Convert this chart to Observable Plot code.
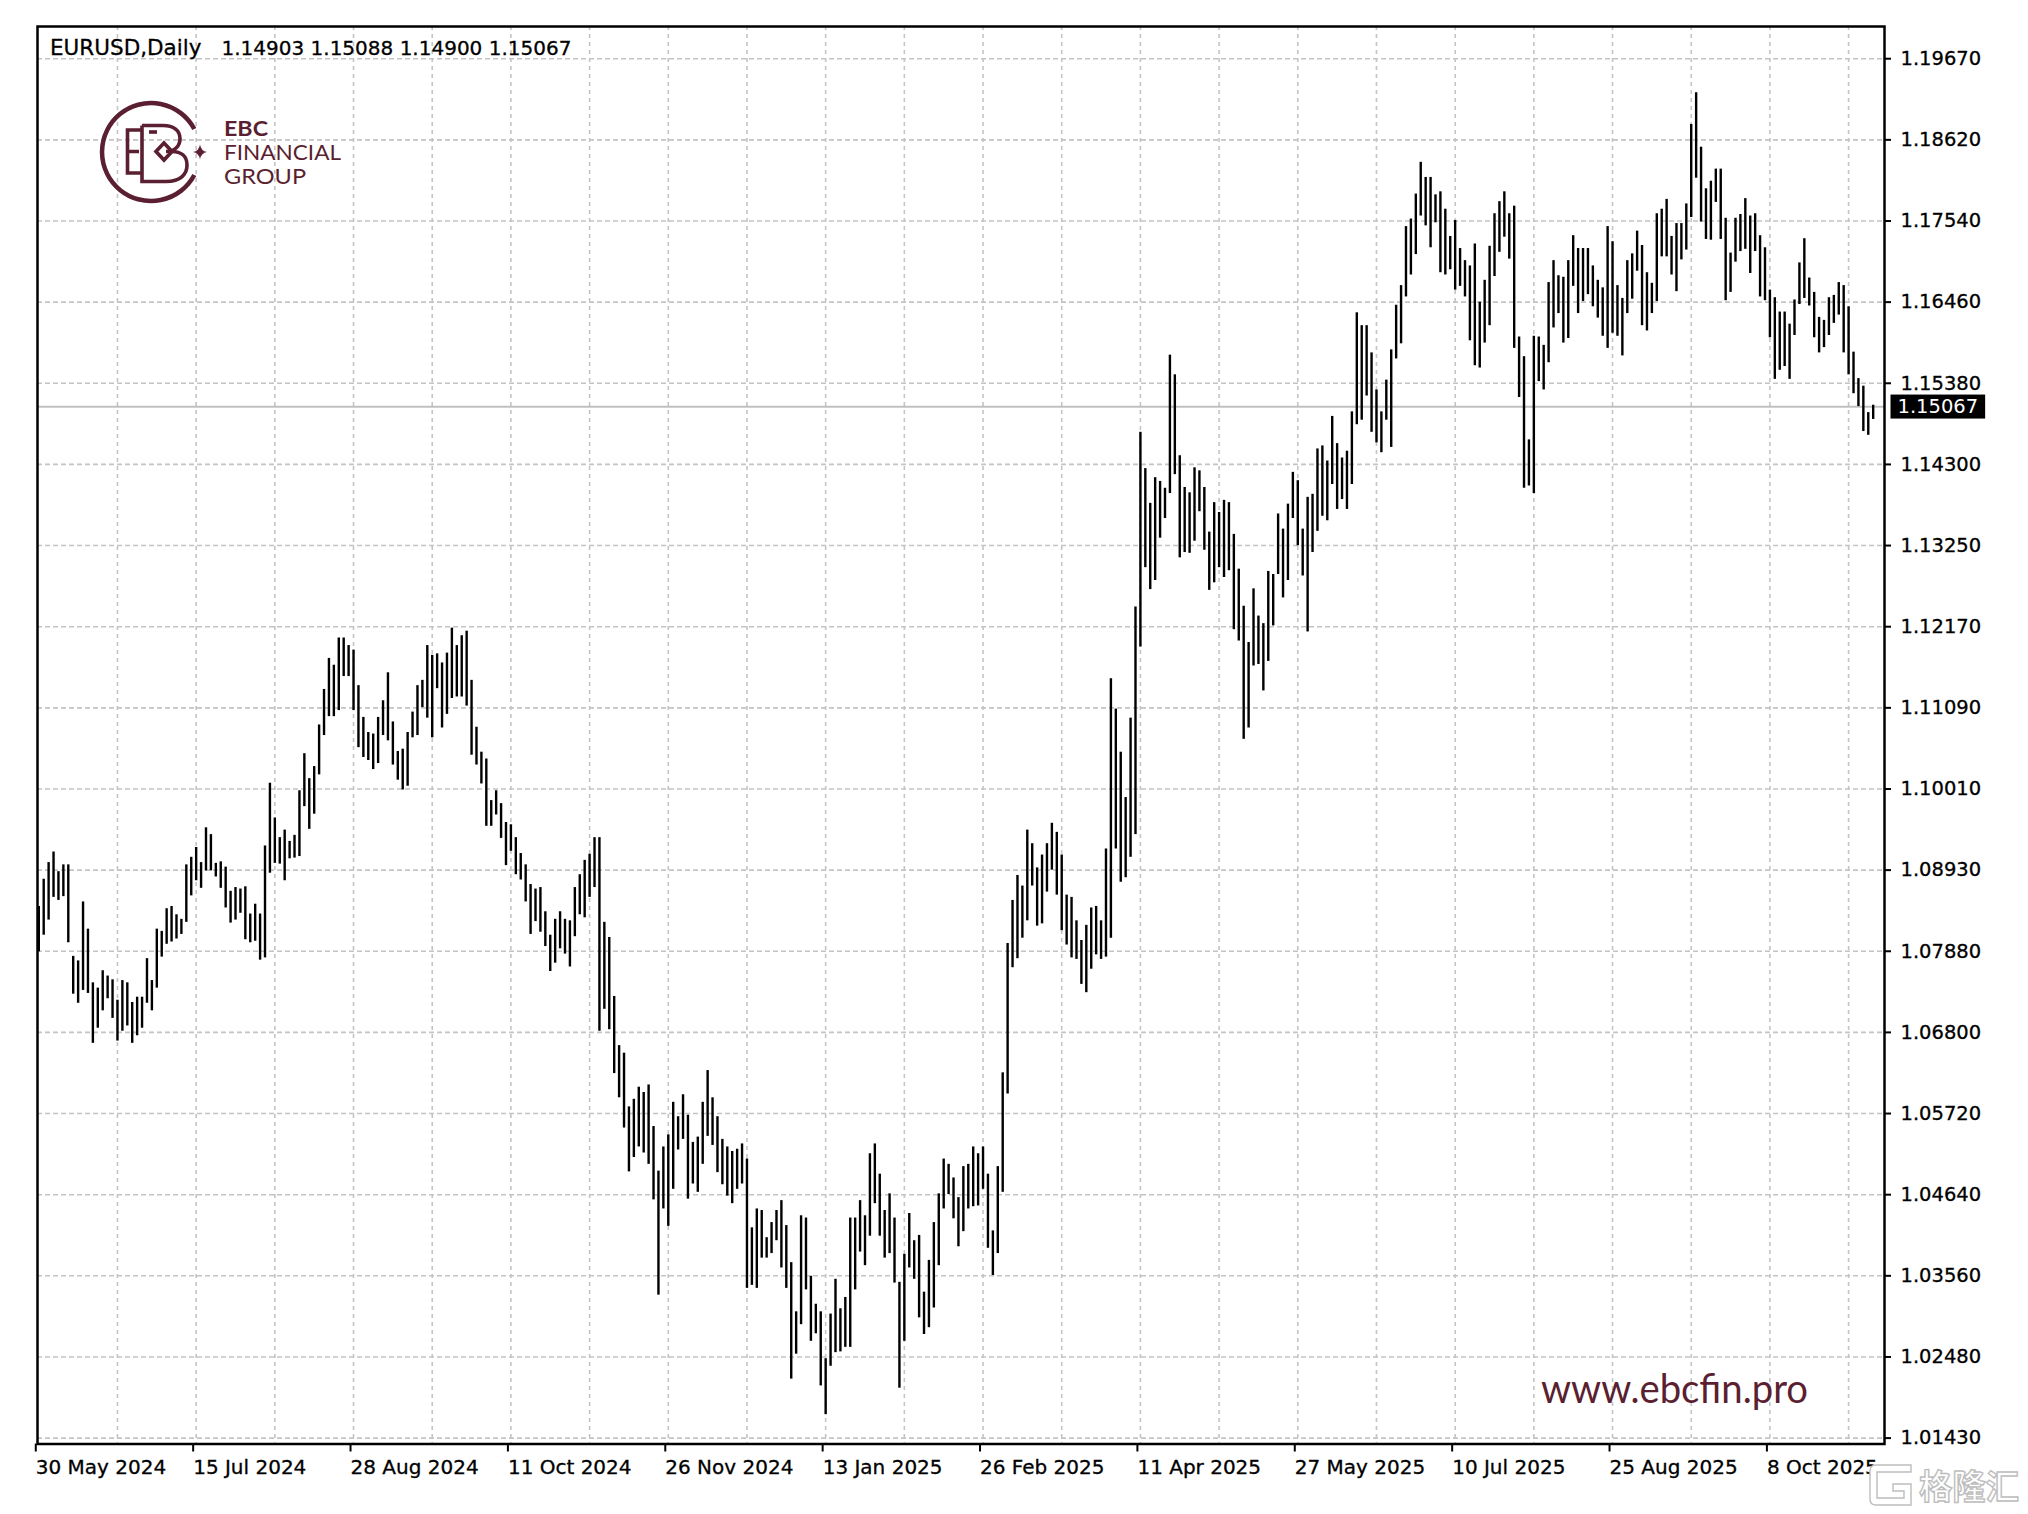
<!DOCTYPE html>
<html><head><meta charset="utf-8">
<script src="https://cdn.jsdelivr.net/npm/d3@7"></script>
<script src="https://cdn.jsdelivr.net/npm/@observablehq/plot@0.6"></script>
<style>
html,body{margin:0;padding:0;background:#fff;}
svg text{white-space:pre;}
svg g[aria-label="y-axis tick label"] text,
svg g[aria-label="x-axis tick label"] text,
svg g.hdr text{stroke:#000;stroke-width:0.3px;}
</style></head><body>
<script>
// ---------- data ----------
const symbol = "EURUSD,Daily";
const lastBar = {open: 1.14903, high: 1.15088, low: 1.14900, close: 1.15067};

const high = [
1.0846,1.0882,1.0904,1.0918,1.0892,1.0901,1.0901,1.0780,1.0774,1.0852,
1.0816,1.0745,1.0738,1.0761,1.0754,1.0749,1.0722,1.0748,1.0745,1.0719,
1.0726,1.0726,1.0777,1.0748,1.0816,1.0813,1.0843,1.0846,1.0835,1.0829,
1.0901,1.0911,1.0924,1.0904,1.0950,1.0941,1.0903,1.0905,1.0898,1.0866,
1.0871,1.0869,1.0872,1.0836,1.0849,1.0836,1.0926,1.1009,1.0963,1.0937,
1.0947,1.0932,1.0940,1.0999,1.1048,1.1015,1.1031,1.1086,1.1133,1.1174,
1.1165,1.1201,1.1201,1.1191,1.1185,1.1138,1.1096,1.1076,1.1074,1.1096,
1.1118,1.1155,1.1090,1.1051,1.1054,1.1076,1.1103,1.1138,1.1145,1.1191,
1.1178,1.1180,1.1168,1.1181,1.1214,1.1191,1.1204,1.1210,1.1145,1.1083,
1.1050,1.1041,1.0986,1.0999,1.0982,1.0957,1.0954,1.0937,1.0916,1.0901,
1.0875,1.0869,1.0871,1.0839,1.0808,1.0829,1.0839,1.0829,1.0827,1.0871,
1.0888,1.0907,1.0915,1.0937,1.0937,1.0825,1.0805,1.0727,1.0662,1.0652,
1.0581,1.0591,1.0607,1.0600,1.0610,1.0555,1.0496,1.0528,1.0544,1.0587,
1.0568,1.0597,1.0570,1.0534,1.0541,1.0587,1.0629,1.0593,1.0568,1.0538,
1.0528,1.0522,1.0525,1.0532,1.0512,1.0421,1.0446,1.0444,1.0408,1.0428,
1.0444,1.0457,1.0424,1.0375,1.0310,1.0437,1.0434,1.0357,1.0320,1.0310,
1.0248,1.0307,1.0353,1.0314,1.0329,1.0434,1.0434,1.0457,1.0437,1.0519,
1.0532,1.0492,1.0444,1.0466,1.0434,1.0349,1.0386,1.0440,1.0404,1.0411,
1.0336,1.0378,1.0428,1.0466,1.0512,1.0505,1.0487,1.0461,1.0502,1.0505,
1.0528,1.0519,1.0528,1.0492,1.0417,1.0502,1.0626,1.0797,1.0854,1.0887,
1.0873,1.0947,1.0929,1.0897,1.0914,1.0929,1.0956,1.0944,1.0914,1.0861,
1.0858,1.0827,1.0801,1.0821,1.0844,1.0846,1.0827,1.0922,1.1147,1.1107,
1.1050,1.0990,1.1095,1.1242,1.1473,1.1425,1.1379,1.1413,1.1408,1.1399,
1.1575,1.1549,1.1442,1.1400,1.1393,1.1426,1.1422,1.1400,1.1341,1.1380,
1.1367,1.1383,1.1380,1.1338,1.1292,1.1243,1.1195,1.1266,1.1230,1.1220,
1.1289,1.1285,1.1365,1.1345,1.1378,1.1420,1.1409,1.1345,1.1387,1.1391,
1.1451,1.1455,1.1435,1.1494,1.1458,1.1439,1.1448,1.1500,1.1631,1.1614,
1.1614,1.1578,1.1529,1.1500,1.1542,1.1582,1.1641,1.1667,1.1745,1.1755,
1.1788,1.1830,1.1810,1.1810,1.1787,1.1791,1.1768,1.1732,1.1753,1.1716,
1.1700,1.1693,1.1722,1.1645,1.1674,1.1719,1.1762,1.1778,1.1791,1.1762,
1.1772,1.1599,1.1573,1.1463,1.1600,1.1599,1.1588,1.1671,1.1700,1.1680,
1.1678,1.1700,1.1733,1.1716,1.1716,1.1716,1.1693,1.1674,1.1664,1.1745,
1.1725,1.1667,1.1650,1.1700,1.1709,1.1739,1.1720,1.1684,1.1670,1.1762,
1.1768,1.1781,1.1732,1.1749,1.1749,1.1775,1.1880,1.1922,1.1850,1.1795,
1.1805,1.1821,1.1821,1.1756,1.1710,1.1756,1.1761,1.1782,1.1759,1.1762,
1.1733,1.1717,1.1661,1.1651,1.1632,1.1632,1.1616,1.1648,1.1697,1.1729,
1.1677,1.1658,1.1625,1.1621,1.1651,1.1654,1.1671,1.1667,1.1639,1.1579,
1.1544,1.1534,1.1499,1.15088
];

const low = [
1.0786,1.0808,1.0828,1.0858,1.0854,1.0859,1.0798,1.0730,1.0718,1.0735,
1.0731,1.0665,1.0685,1.0708,1.0724,1.0698,1.0668,1.0681,1.0688,1.0665,
1.0675,1.0685,1.0718,1.0708,1.0738,1.0779,1.0796,1.0799,1.0803,1.0809,
1.0825,1.0860,1.0880,1.0870,1.0893,1.0893,1.0885,1.0870,1.0844,1.0824,
1.0828,1.0837,1.0802,1.0798,1.0800,1.0775,1.0778,1.0890,1.0903,1.0902,
1.0880,1.0909,1.0910,1.0912,1.0978,1.0948,1.0968,1.1020,1.1072,1.1097,
1.1097,1.1105,1.1150,1.1150,1.1105,1.1056,1.1043,1.1039,1.1027,1.1035,
1.1072,1.1065,1.1033,1.1013,1.1000,1.1005,1.1069,1.1072,1.1109,1.1095,
1.1069,1.1134,1.1082,1.1100,1.1121,1.1123,1.1123,1.1111,1.1046,1.1033,
1.1008,1.0952,1.0952,1.0967,1.0936,1.0900,1.0919,1.0888,1.0881,1.0852,
1.0809,1.0826,1.0812,1.0793,1.0760,1.0771,1.0790,1.0783,1.0766,1.0806,
1.0835,1.0831,1.0858,1.0871,1.0681,1.0710,1.0683,1.0625,1.0593,1.0553,
1.0495,1.0514,1.0528,1.0520,1.0505,1.0458,1.0332,1.0446,1.0423,1.0472,
1.0524,1.0538,1.0459,1.0479,1.0468,1.0505,1.0542,1.0530,1.0494,1.0478,
1.0463,1.0453,1.0472,1.0479,1.0341,1.0345,1.0341,1.0381,1.0381,1.0387,
1.0404,1.0368,1.0341,1.0221,1.0254,1.0293,1.0339,1.0271,1.0281,1.0212,
1.0174,1.0238,1.0256,1.0257,1.0263,1.0263,1.0339,1.0389,1.0371,1.0410,
1.0453,1.0410,1.0381,1.0387,1.0348,1.0209,1.0271,1.0368,1.0353,1.0302,
1.0280,1.0289,1.0315,1.0371,1.0446,1.0465,1.0433,1.0396,1.0416,1.0446,
1.0449,1.0450,1.0472,1.0394,1.0358,1.0387,1.0468,1.0598,1.0765,1.0777,
1.0804,1.0827,1.0873,1.0820,1.0823,1.0865,1.0894,1.0861,1.0814,1.0795,
1.0778,1.0776,1.0743,1.0732,1.0763,1.0782,1.0776,1.0779,1.0804,1.0922,
1.0878,1.0884,1.0911,1.0941,1.1189,1.1294,1.1265,1.1277,1.1333,1.1359,
1.1392,1.1417,1.1307,1.1314,1.1313,1.1329,1.1368,1.1317,1.1264,1.1274,
1.1294,1.1281,1.1290,1.1212,1.1197,1.1067,1.1082,1.1164,1.1166,1.1131,
1.1170,1.1217,1.1285,1.1254,1.1277,1.1359,1.1323,1.1283,1.1209,1.1314,
1.1342,1.1362,1.1356,1.1404,1.1371,1.1384,1.1371,1.1404,1.1483,1.1489,
1.1521,1.1473,1.1459,1.1446,1.1489,1.1453,1.1570,1.1590,1.1652,1.1681,
1.1708,1.1759,1.1746,1.1717,1.1750,1.1684,1.1681,1.1688,1.1661,1.1666,
1.1652,1.1594,1.1561,1.1558,1.1591,1.1614,1.1679,1.1711,1.1731,1.1702,
1.1584,1.1519,1.1399,1.1402,1.1392,1.1540,1.1529,1.1565,1.1611,1.1630,
1.1591,1.1597,1.1666,1.1630,1.1646,1.1655,1.1639,1.1624,1.1600,1.1584,
1.1604,1.1600,1.1574,1.1630,1.1649,1.1686,1.1614,1.1607,1.1630,1.1646,
1.1705,1.1705,1.1681,1.1659,1.1701,1.1714,1.1757,1.1809,1.1751,1.1728,
1.1727,1.1777,1.1728,1.1647,1.1658,1.1698,1.1712,1.1715,1.1683,1.1712,
1.1652,1.1647,1.1598,1.1543,1.1555,1.1560,1.1543,1.1601,1.1642,1.1650,
1.1640,1.1598,1.1578,1.1585,1.1601,1.1617,1.1628,1.1578,1.1549,1.1524,
1.1507,1.1474,1.1469,1.14900
];

const dateLabels = ["30 May 2024","15 Jul 2024","28 Aug 2024","11 Oct 2024","26 Nov 2024",
  "13 Jan 2025","26 Feb 2025","11 Apr 2025","27 May 2025","10 Jul 2025","25 Aug 2025","8 Oct 2025"];
const barsPerLabel = 32;
const barsPerGrid = 16;

const yTickLabels = ["1.19670","1.18620","1.17540","1.16460","1.15380","1.14300","1.13250",
  "1.12170","1.11090","1.10010","1.08930","1.07880","1.06800","1.05720","1.04640","1.03560",
  "1.02480","1.01430"];

// ---------- derived tables ----------
const bars = high.map((h, i) => ({i, high: h, low: low[i]}));
const yTop = +yTickLabels[0], yBot = +yTickLabels[yTickLabels.length - 1];
const yTicks = yTickLabels.map((t, k) => yTop - k * (yTop - yBot) / (yTickLabels.length - 1));
const dateTicks = dateLabels.map((_, k) => k * barsPerLabel);
const gridX = d3.range(barsPerGrid, bars.length, barsPerGrid);
const ohlcText = [lastBar.open, lastBar.high, lastBar.low, lastBar.close].map(v => v.toFixed(5)).join(" ");

const chart = Plot.plot({
  width: 2028, height: 1514,
  marginTop: 26, marginBottom: 70.5, marginLeft: 37, marginRight: 144,
  style: {fontFamily: "DejaVu Sans", fontSize: "19.5px", color: "#000", background: "#fff", overflow: "visible"},
  x: {type: "linear", domain: [-0.26, 375.3], axis: null},
  y: {domain: [1.01352, 1.20096], axis: null},
  marks: [
    Plot.ruleY(yTicks, {stroke: "#c4c4c4", strokeWidth: 1.6, strokeDasharray: "5,3"}),
    Plot.ruleX(gridX, {stroke: "#c4c4c4", strokeWidth: 1.6, strokeDasharray: "4,4"}),
    Plot.ruleY([lastBar.close], {stroke: "#c0c0c0", strokeWidth: 2}),
    Plot.ruleX(bars, {x: "i", y1: "low", y2: "high", stroke: "#000", strokeWidth: 2.4}),
    Plot.frame({stroke: "#000", strokeWidth: 2.5}),
    Plot.axisY(yTicks, {anchor: "right", label: null, tickSize: 6, tickPadding: 10, stroke: "#000", strokeWidth: 2,
      tickFormat: d => yTickLabels[yTicks.indexOf(d)], fill: "#000", fontSize: 19.5}),
    Plot.axisX(dateTicks, {anchor: "bottom", label: null, tickSize: 8, tickPadding: 8, stroke: "#000", strokeWidth: 2,
      tickFormat: d => dateLabels[dateTicks.indexOf(d)], textAnchor: "start", dx: -3, fill: "#000", fontSize: 20}),
    Plot.text([symbol], {frameAnchor: "top-left", dx: 12.5, dy: 28, lineAnchor: "bottom", textAnchor: "start",
      fontSize: 21.5, fill: "#000", text: d => d, className: "hdr"}),
    Plot.text([ohlcText], {frameAnchor: "top-left", dx: 184, dy: 28, lineAnchor: "bottom", textAnchor: "start",
      fontSize: 20, fill: "#000", text: d => d, className: "hdr"}),
    Plot.text([lastBar.close], {y: d => d, frameAnchor: "right", dx: 13, textAnchor: "start", fill: "#fff",
      fontSize: 19.5, text: d => d.toFixed(5)})
  ]
});
document.body.appendChild(chart);

// black box behind the current price tag
const tagText = lastBar.close.toFixed(5);
d3.select(chart).selectAll("text").each(function() {
  if (this.textContent === tagText && getComputedStyle(this).fill === "rgb(255, 255, 255)") {
    const b = this.getBBox();
    const r = document.createElementNS("http://www.w3.org/2000/svg", "rect");
    r.setAttribute("x", b.x - 7); r.setAttribute("y", b.y - 0.5);
    r.setAttribute("width", b.width + 14); r.setAttribute("height", b.height + 1);
    r.setAttribute("fill", "#000");
    const tf = this.getAttribute("transform");
    if (tf) r.setAttribute("transform", tf);
    this.parentNode.insertBefore(r, this);
  }
});

// ---------- decorations (logo / watermarks) ----------
const maroon = "#5a1f30";
const svg = d3.select(chart);
const logo = svg.append("g").attr("fill", "none").attr("stroke", maroon);
logo.append("path").attr("d", "M194.3,129 A49,49 0 1 0 194.3,175").attr("stroke-width", 4.5);
logo.append("path").attr("d", "M141,130 H127.5 V173 H141 M127.5,151.5 H139").attr("stroke-width", 3.6);
logo.append("path").attr("d", "M142,125.5 V181.5 H166 C181,181.5 187,174 187,165 C187,156 181,151.5 172,151.5 M142,125.5 H163 C174,125.5 180,131 180,138.5 C180,146 175,151.5 166,151.5").attr("stroke-width", 3.6);
logo.append("path").attr("d", "M149,132 H157").attr("stroke-width", 3.6);
logo.append("path").attr("d", "M164,143 L172,151.5 L164,160 L156,151.5 Z").attr("stroke-width", 3.6);
logo.append("path").attr("d", "M200,144.5 Q201,151 207,152 Q201,153 200,159.5 Q199,153 193,152 Q199,151 200,144.5 Z")
  .attr("fill", maroon).attr("stroke", "none");
const lt = svg.append("g").attr("fill", maroon).attr("font-family", "Lato").attr("text-anchor", "start");
lt.append("text").attr("x", 224).attr("y", 136).attr("font-size", 20).attr("font-weight", "bold")
  .attr("textLength", 44).attr("lengthAdjust", "spacingAndGlyphs").text("EBC");
lt.append("text").attr("x", 224).attr("y", 160).attr("font-size", 22)
  .attr("textLength", 117).attr("lengthAdjust", "spacingAndGlyphs").text("FINANCIAL");
lt.append("text").attr("x", 224).attr("y", 184).attr("font-size", 22)
  .attr("textLength", 82).attr("lengthAdjust", "spacingAndGlyphs").text("GROUP");
lt.append("text").attr("x", 1541).attr("y", 1403).attr("font-size", 40)
  .attr("textLength", 267).attr("lengthAdjust", "spacingAndGlyphs").text("www.ebcfin.pro");

const gl = svg.append("g").attr("fill", "#fff").attr("stroke", "#bdbdbd").attr("stroke-width", 1.4).attr("text-anchor", "start");
gl.append("path").attr("d", "M1911,1472 V1465 H1876 Q1870,1465 1870,1471 V1499 Q1870,1505 1876,1505 H1911 V1484 H1893 V1491 H1904 V1498 H1877 V1472 Z");
gl.append("text").attr("x", 1919).attr("y", 1499).attr("font-family", "Noto Sans CJK SC").attr("font-weight", "bold")
  .attr("font-size", 34).attr("textLength", 100).attr("lengthAdjust", "spacingAndGlyphs").text("格隆汇");
</script>
</body></html>
